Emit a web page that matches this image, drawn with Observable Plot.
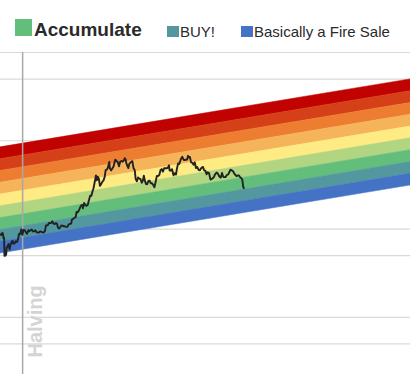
<!DOCTYPE html>
<html>
<head>
<meta charset="utf-8">
<script src="https://cdn.jsdelivr.net/npm/d3@7"></script>
<script src="https://cdn.jsdelivr.net/npm/@observablehq/plot@0.6"></script>
<style>
  html, body { margin: 0; padding: 0; background: #fff; }
  body { width: 410px; height: 374px; overflow: hidden; font-family: "Liberation Sans", Arial, sans-serif; }
  #legend { position: relative; height: 44px; color: #2a2a2a; }
  #legend .sw { position: absolute; }
  #legend .lb { position: absolute; white-space: nowrap; }
  #chart svg { display: block; }
</style>
</head>
<body>
<div id="legend"></div>
<div id="chart"></div>
<script>
// ---- data ----
const bandNames = ["Maximum Bubble Territory", "Sell. Seriously, SELL!", "FOMO intensifies", "Is this a bubble?", "HODL!", "Still cheap", "Accumulate", "BUY!", "Basically a Fire Sale"];
const bandColors = ["#c00200", "#d64018", "#ed7d31", "#f6b45a", "#feeb84", "#b1d580", "#63be7b", "#54989f", "#4472c4"];
const bandDates = ["2020-02-28", "2023-11-12"];
// band edges (USD), top to bottom, at the first and last band date
const bandEdgesStart = [84200, 61900, 45500, 33500, 24600, 18100, 13300, 9770, 7180, 5280];
const bandEdgesEnd = [496000, 364600, 268000, 197000, 145000, 106600, 78300, 57500, 42300, 31100];

const yTicks = [500, 1000, 5000, 10000, 50000, 100000, 500000, 1000000];
const halvingDate = "2020-05-11";
const halvingLabel = "Halving";

const legendItems = ["Accumulate", "BUY!", "Basically a Fire Sale"];

const priceDates = [
"2020-02-28","2020-03-01","2020-03-03","2020-03-05","2020-03-07","2020-03-09","2020-03-11","2020-03-12","2020-03-13","2020-03-15","2020-03-16","2020-03-18","2020-03-19","2020-03-21","2020-03-23","2020-03-26","2020-03-29","2020-04-02","2020-04-06","2020-04-08","2020-04-10","2020-04-14","2020-04-18","2020-04-22","2020-04-26","2020-04-29","2020-04-30","2020-05-03","2020-05-07","2020-05-10","2020-05-11","2020-05-14","2020-05-18","2020-05-22","2020-05-26","2020-05-30","2020-06-02","2020-06-06","2020-06-10","2020-06-14","2020-06-18","2020-06-22","2020-06-26","2020-06-30","2020-07-04","2020-07-08","2020-07-12","2020-07-16","2020-07-20","2020-07-24","2020-07-27","2020-08-02","2020-08-06","2020-08-10","2020-08-14","2020-08-17","2020-08-21","2020-08-25","2020-08-29","2020-09-02","2020-09-04","2020-09-08","2020-09-12","2020-09-16","2020-09-20","2020-09-24","2020-09-28","2020-10-02","2020-10-06","2020-10-10","2020-10-14","2020-10-18","2020-10-21","2020-10-25","2020-10-29","2020-11-02","2020-11-05","2020-11-09","2020-11-13","2020-11-17","2020-11-21","2020-11-25","2020-11-26","2020-11-30","2020-12-04","2020-12-08","2020-12-12","2020-12-16","2020-12-20","2020-12-24","2020-12-27","2020-12-31",
"2021-01-03","2021-01-08","2021-01-11","2021-01-14","2021-01-18","2021-01-21","2021-01-25","2021-01-29","2021-02-02","2021-02-06","2021-02-09","2021-02-13","2021-02-16","2021-02-21","2021-02-23","2021-02-27","2021-03-03","2021-03-07","2021-03-13","2021-03-17","2021-03-21","2021-03-25","2021-03-29","2021-04-02","2021-04-06","2021-04-10","2021-04-13","2021-04-16","2021-04-18","2021-04-22","2021-04-25","2021-04-28","2021-05-03","2021-05-08","2021-05-12","2021-05-16","2021-05-19","2021-05-23","2021-05-27","2021-05-31","2021-06-04","2021-06-08","2021-06-12","2021-06-15","2021-06-18","2021-06-22","2021-06-26","2021-06-30","2021-07-04","2021-07-08","2021-07-12","2021-07-16","2021-07-20","2021-07-24","2021-07-28","2021-08-01","2021-08-05","2021-08-09","2021-08-13","2021-08-17","2021-08-21","2021-08-25","2021-08-29","2021-09-02","2021-09-06","2021-09-08","2021-09-12","2021-09-16","2021-09-21","2021-09-25","2021-09-29","2021-10-02","2021-10-06","2021-10-10","2021-10-15","2021-10-20","2021-10-24","2021-10-28","2021-11-01","2021-11-05","2021-11-08","2021-11-10","2021-11-14","2021-11-18","2021-11-22","2021-11-26","2021-11-30","2021-12-04","2021-12-08","2021-12-13","2021-12-17","2021-12-21","2021-12-27","2021-12-31",
"2022-01-04","2022-01-08","2022-01-12","2022-01-16","2022-01-21","2022-01-24","2022-01-28","2022-02-01","2022-02-05","2022-02-10","2022-02-14","2022-02-18","2022-02-22","2022-02-24","2022-02-28","2022-03-04","2022-03-08","2022-03-12","2022-03-16","2022-03-20","2022-03-24","2022-03-28","2022-04-01","2022-04-05","2022-04-09","2022-04-13","2022-04-17","2022-04-21","2022-04-25","2022-04-29","2022-05-03","2022-05-06","2022-05-09","2022-05-11"
];
const priceValues = [
8700,8560,8760,9070,8900,7900,7920,4970,5560,5360,5010,5230,6190,6200,6480,6760,5880,6790,7270,7360,6860,6840,7260,7130,7680,8780,8660,8900,9950,8600,8760,9790,9730,9170,8840,9700,9460,9670,9870,9390,9410,9690,9160,9140,9130,9430,9300,9130,9160,9540,11000,11050,11750,11680,11760,12250,11530,11370,11680,11400,10500,10120,10450,10950,10920,10740,10700,10570,10600,11300,11430,11500,12820,13030,13460,13550,15600,15480,16300,17650,18680,18730,17150,19700,18650,18320,18800,21300,23870,23740,26270,28990,
32780,40580,35570,39190,36630,30820,32250,34260,35510,39270,46400,47160,49200,57540,48820,46190,48560,51200,61200,58900,57300,51300,57800,59000,58000,59800,63500,61300,56200,51700,49000,54800,57200,58800,49100,46400,37000,34700,38400,37300,36900,33500,35500,40200,35800,32500,32200,35000,35300,32900,33100,31500,29800,34300,40000,39900,40900,46300,47800,44700,48900,48900,48800,49300,52700,46100,46000,47700,40700,42800,41500,47700,55400,54700,61700,65900,61000,60600,61000,61300,67500,64900,65500,56900,56300,53600,57000,49200,50600,46700,46200,48900,50600,46300,
45900,41700,43900,43100,36300,36700,37700,38700,41600,43600,42600,40000,38300,38300,43200,39100,38700,38800,41100,41300,44000,47100,46300,45500,42800,41100,39700,40500,40400,38600,37700,36000,30100,29000
];

// ---- tables built from the arrays ----
const parse = d3.utcParse("%Y-%m-%d");
const bandRows = [];
bandNames.forEach((name, k) => {
  bandRows.push({name, date: parse(bandDates[0]), hi: bandEdgesStart[k], lo: bandEdgesStart[k + 1]});
  bandRows.push({name, date: parse(bandDates[1]), hi: bandEdgesEnd[k], lo: bandEdgesEnd[k + 1]});
});
const price = priceDates.map((d, i) => ({date: parse(d), price: priceValues[i]}));
const halving = [{date: parse(halvingDate), label: halvingLabel}];

// ---- legend ----
const legend = document.getElementById("legend");
const legendLayout = [
  {sw: [15, 19, 17, 17], lb: [34, 20], size: 19, weight: "bold"},
  {sw: [167, 26, 12, 11], lb: [180, 24], size: 15, weight: "normal"},
  {sw: [241, 26, 12, 11], lb: [254, 24], size: 15, weight: "normal"}
];
legendItems.forEach((name, i) => {
  const L = legendLayout[i];
  const sw = document.createElement("div");
  sw.className = "sw";
  Object.assign(sw.style, {left: L.sw[0] + "px", top: L.sw[1] + "px", width: L.sw[2] + "px", height: L.sw[3] + "px", background: bandColors[bandNames.indexOf(name)]});
  const lb = document.createElement("div");
  lb.className = "lb";
  lb.textContent = name;
  Object.assign(lb.style, {left: L.lb[0] + "px", top: L.lb[1] + "px", fontSize: L.size + "px", lineHeight: L.size + "px", fontWeight: L.weight});
  legend.appendChild(sw);
  legend.appendChild(lb);
});

// ---- chart ----
const chart = Plot.plot({
  width: 410,
  height: 330,
  marginTop: 8,
  marginRight: 0,
  marginBottom: 0,
  marginLeft: 0,
  style: {background: "transparent", fontFamily: "'Liberation Sans', Arial, sans-serif"},
  x: {type: "utc", domain: [parse(bandDates[0]), parse(bandDates[1])], axis: null},
  y: {type: "log", domain: [225, 1000000], axis: null},
  color: {domain: bandNames, range: bandColors},
  marks: [
    Plot.ruleY(yTicks, {stroke: "#dadada", strokeWidth: 1.2}),
    Plot.areaY(bandRows, {x: "date", y1: "lo", y2: "hi", z: "name", fill: "name", stroke: "name", strokeWidth: 0.5}),
    Plot.ruleX(halving, {x: "date", stroke: "#a8a8a8", strokeWidth: 1.5}),
    Plot.text(halving, {x: "date", text: "label", frameAnchor: "bottom", rotate: -90, textAnchor: "start", lineAnchor: "middle", dx: 13, dy: -17, fontSize: 20, fontWeight: "bold", fill: "#d4d4d4"}),
    Plot.line(price, {x: "date", y: "price", stroke: "#222", strokeWidth: 1.9, strokeLinejoin: "round"})
  ]
});
document.getElementById("chart").appendChild(chart);
</script>
</body>
</html>
